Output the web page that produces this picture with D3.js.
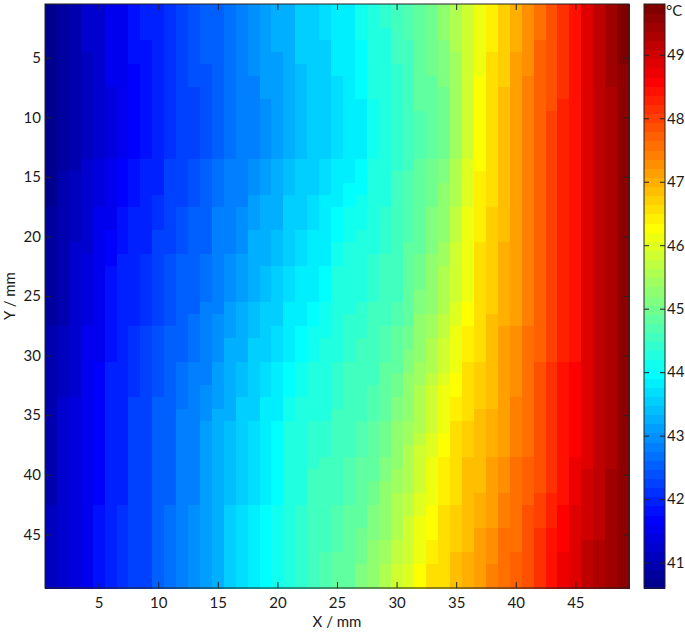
<!DOCTYPE html>
<html>
<head>
<meta charset="utf-8">
<script src="https://cdnjs.cloudflare.com/ajax/libs/d3/7.8.5/d3.min.js"></script>
<style>
  body { margin: 0; background: #fff; }
  svg text { font-family: Lato, "Open Sans", sans-serif; fill: #1a1a1a; }
</style>
</head>
<body>
<svg id="chart" width="685" height="634"></svg>
<script>
// grid positions (mm)
const xCols = d3.range(1, 50);
const yRows = d3.range(1, 50);
const xTicks = [5, 10, 15, 20, 25, 30, 35, 40, 45];
const yTicks = [5, 10, 15, 20, 25, 30, 35, 40, 45];
const cbarTicks = [41, 42, 43, 44, 45, 46, 47, 48, 49];
const tempRange = [40.6, 49.8];

// temperature, in tenths of a degree above 40 °C
// one string per Y row (Y = 1 at top), X = 1..49 left to right
const tempRows = [
  "07 08 10 12 13 15 16 18 19 20 21 23 24 25 26 27 29 30 31 32 33 35 36 37 38 39 41 42 44 45 47 49 50 52 55 58 61 64 67 70 73 76 78 82 84 88 91 94 97",
  "07 08 10 12 13 15 16 18 19 20 21 23 24 25 26 27 29 30 31 32 33 35 36 37 38 39 41 42 44 45 47 49 50 52 55 58 61 64 67 70 73 76 78 82 84 88 91 94 97",
  "07 08 10 12 13 15 16 18 19 20 21 23 24 25 26 27 29 30 31 32 33 35 36 37 38 39 41 42 43 45 47 49 50 52 55 58 62 64 67 70 73 76 78 82 84 88 91 94 97",
  "07 08 10 12 13 15 16 18 18 20 21 23 24 25 26 27 28 30 31 32 33 35 36 36 38 39 40 42 43 45 46 49 50 51 55 58 62 64 67 70 73 77 79 82 84 88 91 94 97",
  "07 08 10 11 13 15 16 18 18 20 21 22 24 25 26 27 28 30 31 31 33 35 36 36 38 38 40 42 43 45 46 48 50 51 54 58 62 65 67 71 73 77 79 82 84 88 91 94 97",
  "07 08 10 11 13 15 16 17 18 20 21 22 24 24 26 27 28 30 31 31 33 34 36 36 38 38 40 42 43 44 46 48 50 51 54 59 62 65 67 71 73 77 79 82 85 88 91 94 96",
  "07 08 10 11 13 15 16 17 18 19 21 22 24 24 26 27 28 29 31 31 33 34 36 36 37 38 40 42 43 44 46 48 49 51 54 59 63 65 67 71 74 77 79 82 85 88 91 94 96",
  "07 08 10 11 13 14 16 17 18 19 21 22 23 24 26 27 28 29 31 31 33 34 35 36 37 38 40 42 42 44 46 48 49 50 54 59 63 65 68 71 74 77 79 82 85 88 91 93 96",
  "07 08 10 11 13 14 16 17 18 19 21 22 23 24 26 27 28 29 30 31 33 34 35 36 37 38 39 41 42 44 46 48 49 50 54 59 63 66 68 71 74 77 79 83 85 88 91 93 96",
  "07 08 10 11 13 14 16 17 18 19 21 22 23 24 26 27 28 29 30 31 33 34 35 36 37 38 39 41 42 44 46 47 49 50 54 59 63 66 68 71 74 77 80 83 85 88 91 93 96",
  "07 08 10 11 13 14 16 17 18 19 21 22 23 24 26 27 28 29 30 31 33 34 35 36 37 38 39 41 42 44 46 47 49 50 54 59 63 66 68 71 74 77 80 83 85 88 91 93 96",
  "07 08 10 11 13 14 16 17 18 19 21 22 23 24 26 27 28 29 30 31 33 34 35 36 37 38 39 41 42 44 46 47 49 50 54 59 63 66 68 71 74 77 80 83 85 88 91 93 96",
  "07 08 10 11 13 14 16 17 18 19 21 22 23 24 26 27 28 29 30 31 33 34 35 36 37 38 39 41 42 44 46 47 49 50 54 59 63 66 68 71 74 77 80 83 85 88 91 93 96",
  "07 08 10 12 14 15 17 18 19 20 22 23 24 25 27 28 29 30 31 32 34 35 36 37 38 39 40 42 43 44 46 48 50 51 55 60 63 66 68 71 74 77 80 83 85 88 91 93 96",
  "07 09 11 12 14 15 17 18 19 20 22 23 24 25 27 28 29 30 31 32 34 35 36 37 38 39 40 42 43 45 47 48 50 51 55 60 64 66 69 71 74 77 80 83 85 88 91 93 96",
  "07 09 11 12 14 15 17 18 19 20 22 23 24 25 27 28 29 30 31 32 34 35 36 37 39 40 40 42 43 45 47 48 50 52 56 60 64 66 69 71 74 77 80 83 85 88 91 93 96",
  "07 09 11 12 14 16 17 18 19 21 22 23 24 25 27 28 29 31 32 33 35 36 37 38 39 40 41 42 43 45 47 48 50 52 56 60 64 66 69 71 74 77 80 83 85 88 91 93 96",
  "08 09 11 13 15 16 18 19 20 21 23 24 25 26 28 29 30 31 32 33 35 36 37 38 40 41 41 43 44 45 47 49 51 53 57 61 64 67 69 72 74 77 80 83 85 88 91 93 96",
  "08 09 11 13 15 16 18 19 20 21 23 24 25 26 28 29 30 31 32 33 35 36 37 38 40 41 41 43 44 45 47 49 51 53 57 61 64 67 69 72 74 77 80 83 85 88 91 93 96",
  "08 09 11 13 15 17 18 19 20 22 23 24 25 26 28 29 30 32 33 34 36 37 38 39 40 41 42 43 44 45 47 49 51 53 57 61 64 67 69 72 74 77 80 83 85 88 91 93 96",
  "08 10 12 13 15 17 18 19 20 22 23 24 25 26 28 29 30 32 33 34 36 37 38 39 41 42 42 43 44 46 48 49 51 54 58 61 65 67 70 72 74 77 80 83 85 88 91 93 96",
  "08 10 12 14 16 17 19 20 21 22 24 25 26 27 29 30 31 32 33 34 36 37 38 39 41 42 42 44 45 46 48 50 52 54 58 62 65 67 70 72 74 77 80 83 85 88 91 93 96",
  "08 10 12 14 16 18 19 20 21 23 24 25 26 27 29 30 31 33 34 35 37 38 39 40 42 43 43 44 45 46 48 50 52 55 59 62 65 67 70 72 74 77 80 83 85 88 91 93 96",
  "08 10 12 14 16 18 19 20 21 23 24 25 26 27 29 30 31 33 34 35 37 38 39 40 42 43 43 44 45 46 48 50 52 55 59 62 65 67 70 72 74 77 80 83 85 88 91 93 96",
  "08 10 12 14 16 18 19 20 21 23 24 25 26 27 29 30 31 33 34 35 37 38 39 40 42 43 43 44 45 46 48 51 53 56 59 62 65 67 70 72 74 77 80 83 85 88 91 93 96",
  "08 10 12 14 16 18 19 20 21 23 24 25 26 28 29 31 32 34 35 36 38 39 40 41 42 43 44 45 46 47 49 51 53 56 60 63 65 67 70 72 74 77 80 83 85 88 91 93 96",
  "08 10 12 14 16 18 19 20 21 23 24 26 27 28 30 31 32 34 35 36 38 39 40 41 43 44 44 45 46 47 49 52 54 57 60 63 66 68 70 72 74 77 80 83 85 88 91 93 96",
  "09 11 13 15 16 18 19 21 22 24 25 26 27 28 30 31 33 34 36 37 39 40 41 41 43 44 44 45 47 48 50 52 54 57 61 64 66 68 71 73 75 77 80 83 85 88 91 93 96",
  "09 11 13 15 16 18 19 21 22 24 25 26 27 29 30 32 33 35 36 37 39 40 41 42 43 44 45 46 47 48 50 53 55 58 61 64 66 68 71 73 75 77 80 83 85 88 91 93 96",
  "09 11 13 15 16 18 19 21 22 24 25 26 27 29 30 32 33 35 36 37 39 40 41 42 43 44 45 46 47 49 51 53 56 59 62 64 66 68 71 73 75 77 80 83 85 88 91 93 96",
  "09 11 13 15 17 19 20 21 22 24 25 27 28 29 31 32 34 35 37 38 40 41 42 42 44 45 45 46 48 49 51 54 56 59 62 65 67 69 71 73 75 78 81 84 86 89 91 93 96",
  "09 11 13 15 17 19 20 21 22 24 25 27 28 29 31 32 34 35 37 38 40 41 42 42 44 45 45 46 48 50 52 54 57 60 63 65 67 69 71 73 75 78 81 84 86 89 91 93 96",
  "09 11 13 15 17 19 20 21 22 24 25 27 28 30 31 33 34 36 37 38 40 41 42 43 44 45 46 47 48 50 52 55 58 61 63 65 67 69 71 73 75 78 81 84 86 89 91 93 96",
  "10 12 14 16 17 19 20 22 23 25 26 27 28 30 31 33 35 36 38 39 41 42 43 43 44 45 46 47 49 51 53 55 58 61 64 66 67 69 72 74 76 78 81 84 86 89 91 93 96",
  "10 12 14 16 17 19 20 22 23 25 26 28 29 30 32 33 35 36 38 39 41 42 43 43 45 46 46 47 49 51 53 56 59 62 64 66 68 70 72 74 76 78 81 84 86 89 91 93 96",
  "10 12 14 16 17 19 20 22 23 25 26 28 29 31 32 34 36 37 39 40 42 43 44 44 45 46 47 48 50 52 54 56 59 62 65 67 68 70 72 74 76 78 81 84 86 89 91 93 96",
  "10 12 14 16 17 19 20 22 23 25 26 28 29 31 32 34 36 37 39 40 42 43 44 44 45 46 47 48 50 52 54 57 60 63 65 67 68 70 72 74 76 78 81 84 86 89 91 93 96",
  "10 12 14 16 17 19 20 22 23 25 26 28 29 31 32 34 36 37 39 40 42 43 44 44 45 46 47 48 50 53 55 58 60 63 65 67 68 70 72 74 76 78 81 84 86 89 91 93 96",
  "10 12 14 16 17 19 20 22 23 25 26 28 29 31 32 34 36 37 39 40 42 43 44 45 46 47 48 49 51 53 55 58 61 64 66 68 69 71 73 75 77 79 82 85 87 89 91 93 96",
  "10 12 14 16 17 19 20 22 23 25 26 28 29 31 32 34 36 37 39 40 42 43 45 45 46 47 48 49 51 54 56 59 61 64 66 68 69 71 73 75 77 79 82 85 87 90 92 94 96",
  "10 12 14 16 17 19 20 22 23 25 26 28 29 31 32 34 36 37 39 40 42 43 45 45 46 47 48 50 52 54 56 59 62 64 66 68 69 71 73 75 77 79 82 85 87 90 92 94 96",
  "10 12 14 16 17 19 20 22 23 25 26 28 29 31 32 34 36 37 39 40 42 43 45 45 46 47 49 50 52 55 57 60 62 64 66 68 70 72 74 75 77 80 83 85 87 90 92 94 96",
  "11 12 14 16 18 20 21 22 23 25 27 28 30 31 33 35 37 38 40 41 43 44 45 46 47 48 49 51 53 55 57 60 63 65 67 69 70 72 74 76 78 80 83 86 88 90 92 94 96",
  "11 12 14 16 18 20 21 22 23 25 27 28 30 31 33 35 37 38 40 41 43 44 45 46 47 48 49 51 53 56 58 61 63 65 67 69 70 72 74 76 78 80 83 86 88 90 92 94 96",
  "11 12 14 16 18 20 21 22 23 25 27 28 30 31 33 35 37 38 40 41 43 44 45 46 47 48 50 51 53 56 58 61 63 65 67 69 71 73 75 76 78 81 84 86 88 90 92 94 96",
  "11 12 14 16 18 20 21 22 23 25 27 28 30 31 33 35 37 38 40 41 43 44 46 46 47 48 50 52 54 57 59 62 64 65 67 69 71 73 75 76 78 81 84 86 88 91 93 95 96",
  "11 12 14 16 18 20 21 22 23 25 27 28 30 31 33 35 37 38 40 41 43 44 46 47 48 49 50 52 54 57 59 62 64 66 68 70 71 73 75 77 79 81 84 87 89 91 93 95 96",
  "11 12 14 16 18 20 21 22 23 25 27 28 30 31 33 35 37 38 40 41 43 44 46 47 48 49 51 53 55 58 60 63 65 66 68 70 72 74 76 77 79 82 85 87 89 91 93 95 96",
  "11 12 14 16 18 20 21 22 23 25 27 28 30 31 33 35 37 38 40 41 43 44 46 47 48 49 51 53 55 58 60 63 65 66 68 70 72 74 76 77 79 82 85 87 89 91 93 95 96"
];

// MATLAB-style jet colormap with m levels
function jet(m) {
  const n = Math.ceil(m / 4);
  const u = [
    ...d3.range(1, n + 1).map(i => i / n),
    ...Array(n - 1).fill(1),
    ...d3.range(n, 0, -1).map(i => i / n)
  ];
  const g0 = Math.ceil(n / 2) - (m % 4 === 1 ? 1 : 0);
  const J = d3.range(m).map(() => [0, 0, 0]);
  u.forEach((v, k) => {
    const g = g0 + k + 1;
    [[g + n, 0], [g, 1], [g - n, 2]].forEach(([idx, ch]) => {
      if (idx >= 1 && idx <= m) J[idx - 1][ch] = v;
    });
  });
  return J.map(([r, g, b]) => d3.rgb(r * 255, g * 255, b * 255).formatHex());
}

const jetColors = jet(64);
const color = d3.scaleQuantize().domain(tempRange).range(jetColors);

const svg = d3.select('#chart');
const plot = { left: 45, top: 4, width: 584, height: 584 };

const x = d3.scaleLinear().domain([0.5, 49.5]).range([plot.left, plot.left + plot.width]);
const y = d3.scaleLinear().domain([0.5, 49.5]).range([plot.top, plot.top + plot.height]);

const cells = [];
tempRows.forEach((row, i) => {
  const vals = row.split(' ').map(v => 40 + +v / 10);
  if (vals.length !== xCols.length) console.log('row', i + 1, 'has', vals.length);
  vals.forEach((t, j) => cells.push({ x: xCols[j], y: yRows[i], t }));
});

svg.append('g')
  .selectAll('rect')
  .data(cells)
  .join('rect')
  .attr('x', d => x(d.x - 0.5))
  .attr('y', d => y(d.y - 0.5))
  .attr('width', x(1.5) - x(0.5) + 0.6)
  .attr('height', y(1.5) - y(0.5) + 0.6)
  .attr('fill', d => color(d.t))
  .attr('shape-rendering', 'crispEdges');

// inward ticks on all four sides, like a boxed matlab axes
const tick = 6;
const gx = svg.append('g')
  .attr('transform', `translate(0,${plot.top + plot.height})`)
  .call(d3.axisBottom(x).tickValues(xTicks).tickSizeInner(-tick).tickSizeOuter(0).tickPadding(9));
svg.append('g')
  .attr('transform', `translate(0,${plot.top})`)
  .call(d3.axisTop(x).tickValues(xTicks).tickSizeInner(-tick).tickSizeOuter(0).tickFormat(''));
const gy = svg.append('g')
  .attr('transform', `translate(${plot.left},0)`)
  .call(d3.axisLeft(y).tickValues(yTicks).tickSizeInner(-tick).tickSizeOuter(0).tickPadding(4));
svg.append('g')
  .attr('transform', `translate(${plot.left + plot.width},0)`)
  .call(d3.axisRight(y).tickValues(yTicks).tickSizeInner(-tick).tickSizeOuter(0).tickFormat(''));

svg.selectAll('.domain').remove();
svg.selectAll('.tick line').attr('stroke', '#222');
svg.selectAll('.tick text').attr('font-size', 15).attr('fill', '#1a1a1a');

svg.append('rect')
  .attr('x', plot.left).attr('y', plot.top)
  .attr('width', plot.width).attr('height', plot.height)
  .attr('fill', 'none').attr('stroke', '#222').attr('stroke-width', 1);

svg.append('text')
  .attr('x', plot.left + plot.width / 2).attr('y', 627)
  .attr('text-anchor', 'middle').attr('font-size', 15)
  .text('X / mm');
svg.append('text')
  .attr('transform', `translate(15,${plot.top + plot.height / 2}) rotate(-90)`)
  .attr('text-anchor', 'middle').attr('font-size', 15)
  .text('Y / mm');

// colour bar
const cb = { left: 644, width: 21 };
const cbY = d3.scaleLinear().domain(tempRange).range([plot.top + plot.height, plot.top]);
const step = (tempRange[1] - tempRange[0]) / jetColors.length;
svg.append('g')
  .selectAll('rect')
  .data(jetColors)
  .join('rect')
  .attr('x', cb.left)
  .attr('y', (c, i) => cbY(tempRange[0] + (i + 1) * step))
  .attr('width', cb.width)
  .attr('height', cbY(tempRange[0]) - cbY(tempRange[0] + step) + 0.6)
  .attr('fill', c => c)
  .attr('shape-rendering', 'crispEdges');

svg.append('g')
  .attr('transform', `translate(${cb.left + cb.width},0)`)
  .call(d3.axisRight(cbY).tickValues(cbarTicks).tickSizeInner(-5).tickSizeOuter(0).tickPadding(2))
  .call(g => g.select('.domain').remove())
  .call(g => g.selectAll('text').attr('font-size', 15).attr('fill', '#1a1a1a'))
  .call(g => g.selectAll('line').attr('stroke', '#222'));
svg.append('g')
  .attr('transform', `translate(${cb.left},0)`)
  .call(d3.axisLeft(cbY).tickValues(cbarTicks).tickSizeInner(-5).tickSizeOuter(0).tickFormat(''))
  .call(g => g.select('.domain').remove())
  .call(g => g.selectAll('line').attr('stroke', '#222'));

svg.append('rect')
  .attr('x', cb.left).attr('y', plot.top)
  .attr('width', cb.width).attr('height', plot.height)
  .attr('fill', 'none').attr('stroke', '#222').attr('stroke-width', 1);

svg.append('text')
  .attr('x', cb.left + cb.width + 1).attr('y', 16)
  .attr('font-size', 15)
  .text('°C');
</script>
</body>
</html>
